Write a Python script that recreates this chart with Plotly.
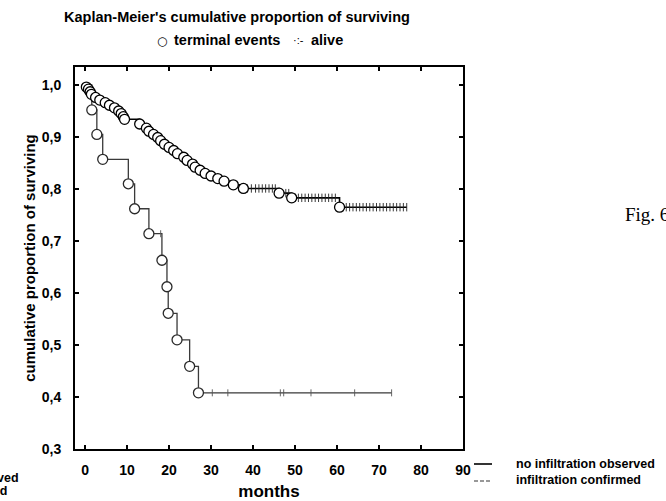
import plotly.graph_objects as go

# ---------------- data ----------------
# group 1: no infiltration observed  (event times in months, survival after event)
g1_event_months = [0.3, 0.8, 1.2, 1.5, 2.5, 3.5, 4.8, 5.8, 7.0, 8.0, 8.6, 9.1, 9.4,
                   13.0, 14.6, 15.2, 16.3, 17.3, 18.0, 18.9, 20.0, 21.1, 22.0, 23.5,
                   24.3, 25.6, 26.2, 27.4, 28.6, 30.0, 31.6, 33.1, 35.3, 37.7, 46.2,
                   49.2, 60.6]
g1_event_surv = [0.996, 0.992, 0.987, 0.982, 0.976, 0.971, 0.966, 0.961, 0.956, 0.950,
                 0.945, 0.939, 0.934, 0.925, 0.917, 0.911, 0.905, 0.899, 0.893, 0.886,
                 0.880, 0.874, 0.868, 0.861, 0.855, 0.848, 0.842, 0.836, 0.830, 0.825,
                 0.820, 0.815, 0.808, 0.801, 0.792, 0.783, 0.765]
g1_cens_months = [21.6, 32.2, 38.6, 39.6, 40.6, 41.4, 42.2, 43.0, 43.8, 44.6, 45.3,
                  47.0, 47.8, 48.5, 50.0, 50.8, 51.6, 52.4, 53.2, 54.0, 54.8, 55.6,
                  56.4, 57.2, 58.0, 58.8, 59.6, 61.4, 62.2, 63.0, 63.8, 64.6, 65.4,
                  66.2, 67.0, 67.8, 68.6, 69.4, 70.2, 71.0, 71.8, 72.6, 73.4, 74.2,
                  75.0, 75.8, 76.6]
g1_cens_surv = [0.874, 0.820, 0.801, 0.801, 0.801, 0.801, 0.801, 0.801, 0.801, 0.801,
                0.801, 0.792, 0.792, 0.792, 0.783, 0.783, 0.783, 0.783, 0.783, 0.783,
                0.783, 0.783, 0.783, 0.783, 0.783, 0.783, 0.783, 0.765, 0.765, 0.765,
                0.765, 0.765, 0.765, 0.765, 0.765, 0.765, 0.765, 0.765, 0.765, 0.765,
                0.765, 0.765, 0.765, 0.765, 0.765, 0.765, 0.765]

# group 2: infiltration confirmed
g2_event_months = [1.6, 2.8, 4.2, 10.3, 11.8, 15.2, 18.3, 19.5, 19.8, 21.9, 24.9, 27.0]
g2_event_surv = [0.952, 0.905, 0.857, 0.810, 0.762, 0.714, 0.663, 0.612, 0.561,
                 0.510, 0.459, 0.408]
g2_cens_months = [18.0, 30.3, 34.0, 46.5, 47.3, 53.8, 64.2, 73.0]
g2_cens_surv = [0.714, 0.408, 0.408, 0.408, 0.408, 0.408, 0.408, 0.408]

x_ticks = [0, 10, 20, 30, 40, 50, 60, 70, 80, 90]
y_ticks = [0.3, 0.4, 0.5, 0.6, 0.7, 0.8, 0.9, 1.0]

# ---------------- figure ----------------
W, H = 666, 501
ML, MR, MT, MB = 75, 203, 67, 52
PW, PH = W - ML - MR, H - MT - MB


def px(x):
    return (x - ML) / PW


def py(y):
    return (H - MB - y) / PH


def step_path(times, surv, last):
    xs, ys = [0.0], [1.0]
    for t, s in zip(times, surv):
        xs.append(t)
        ys.append(s)
    xs.append(last)
    ys.append(surv[-1])
    return xs, ys


FONT = "Liberation Sans, Arial, sans-serif"
fig = go.Figure()

x1, y1 = step_path(g1_event_months, g1_event_surv, max(g1_cens_months))
x2, y2 = step_path(g2_event_months, g2_event_surv, max(g2_cens_months))

fig.add_trace(go.Scatter(x=x2, y=y2, mode="lines", line_shape="hv",
                         line=dict(color="#3a3a3a", width=1.3), showlegend=False))
fig.add_trace(go.Scatter(x=x1, y=y1, mode="lines", line_shape="hv",
                         line=dict(color="black", width=1.6), showlegend=False))

fig.add_trace(go.Scatter(x=g2_cens_months, y=g2_cens_surv, mode="markers",
                         marker=dict(symbol="line-ns", size=5,
                                     line=dict(color="#555", width=0.9)),
                         showlegend=False))
fig.add_trace(go.Scatter(x=g1_cens_months, y=g1_cens_surv, mode="markers",
                         marker=dict(symbol="line-ns", size=6,
                                     line=dict(color="#222", width=0.9)),
                         showlegend=False))

fig.add_trace(go.Scatter(x=g2_event_months, y=g2_event_surv, mode="markers",
                         marker=dict(symbol="circle", size=10, color="white",
                                     line=dict(color="#2a2a2a", width=1.3)),
                         showlegend=False))
fig.add_trace(go.Scatter(x=g1_event_months, y=g1_event_surv, mode="markers",
                         marker=dict(symbol="circle", size=10, color="white",
                                     line=dict(color="black", width=1.3)),
                         showlegend=False))

ann = []
bold = dict(family=FONT, color="black", size=14.5, weight="bold")
ann.append(dict(x=px(62), y=py(17), xref="paper", yref="paper", xanchor="left",
                yanchor="middle", showarrow=False,
                text="Kaplan-Meier's cumulative proportion of surviving", font=bold))
ann.append(dict(x=px(162), y=py(41), xref="paper", yref="paper", xanchor="center",
                yanchor="middle", showarrow=False, text="○",
                font=dict(family="DejaVu Sans", size=12, color="black")))
ann.append(dict(x=px(172), y=py(40), xref="paper", yref="paper", xanchor="left",
                yanchor="middle", showarrow=False, text="terminal events", font=bold))
ann.append(dict(x=px(298), y=py(40), xref="paper", yref="paper", xanchor="center",
                yanchor="middle", showarrow=False, text="·:-",
                font=dict(family=FONT, size=11, color="black")))
ann.append(dict(x=px(309), y=py(40), xref="paper", yref="paper", xanchor="left",
                yanchor="middle", showarrow=False, text="alive", font=bold))

leg = dict(family=FONT, color="black", size=12.5, weight="bold")
ann.append(dict(x=px(514), y=py(464), xref="paper", yref="paper", xanchor="left",
                yanchor="middle", showarrow=False, text="no infiltration observed",
                font=leg))
ann.append(dict(x=px(514), y=py(480), xref="paper", yref="paper", xanchor="left",
                yanchor="middle", showarrow=False, text="infiltration confirmed",
                font=leg))
ann.append(dict(x=px(21), y=py(478), xref="paper", yref="paper", xanchor="right",
                yanchor="middle", showarrow=False, text="observed", font=leg))
ann.append(dict(x=px(9), y=py(491), xref="paper", yref="paper", xanchor="right",
                yanchor="middle", showarrow=False, text="confirmed", font=leg))
ann.append(dict(x=px(623), y=py(214), xref="paper", yref="paper", xanchor="left",
                yanchor="middle", showarrow=False, text="Fig. 6",
                font=dict(family="Liberation Serif, Times New Roman, serif", size=19,
                          color="black")))

shapes = [
    dict(type="line", xref="paper", yref="paper", x0=px(474), x1=px(492),
         y0=py(464), y1=py(464), line=dict(color="black", width=1.6)),
    dict(type="line", xref="paper", yref="paper", x0=px(474), x1=px(492),
         y0=py(481), y1=py(481), line=dict(color="#333", width=1.2, dash="4px,2px")),
]

fig.update_layout(
    width=W, height=H, margin=dict(l=ML, r=MR, t=MT, b=MB, autoexpand=False),
    paper_bgcolor="white", plot_bgcolor="white", separators=",.",
    annotations=ann, shapes=shapes, showlegend=False,
    font=dict(family=FONT, color="black"),
)
fig.update_xaxes(range=[-2.4, 90], tickvals=x_ticks, ticks="inside", ticklen=4,
                 tickwidth=1.5, tickcolor="black", showline=True, linewidth=2,
                 linecolor="black", mirror="ticks", showgrid=False, zeroline=False,
                 automargin=False,
                 tickfont=dict(family=FONT, size=14, color="black", weight="bold"),
                 ticklabelstandoff=7,
                 title=dict(text="months", standoff=10,
                            font=dict(family=FONT, size=17, color="black",
                                      weight="bold")))
fig.update_yaxes(range=[0.3, 1.0346], tickvals=y_ticks, tickformat=".1f",
                 ticks="inside", ticklen=4, tickwidth=1.5, tickcolor="black",
                 showline=True, linewidth=2, linecolor="black", mirror="ticks",
                 showgrid=False, zeroline=False, ticklabelstandoff=9,
                 automargin=False,
                 tickfont=dict(family=FONT, size=14, color="black", weight="bold"),
                 title=dict(text="cumulative proportion of surviving", standoff=2,
                            font=dict(family=FONT, size=15, color="black",
                                      weight="bold")))

fig.write_html("out.html", config={"displayModeBar": False},
               post_script="document.body.style.margin='0';"
                           "document.body.style.overflow='hidden';")
